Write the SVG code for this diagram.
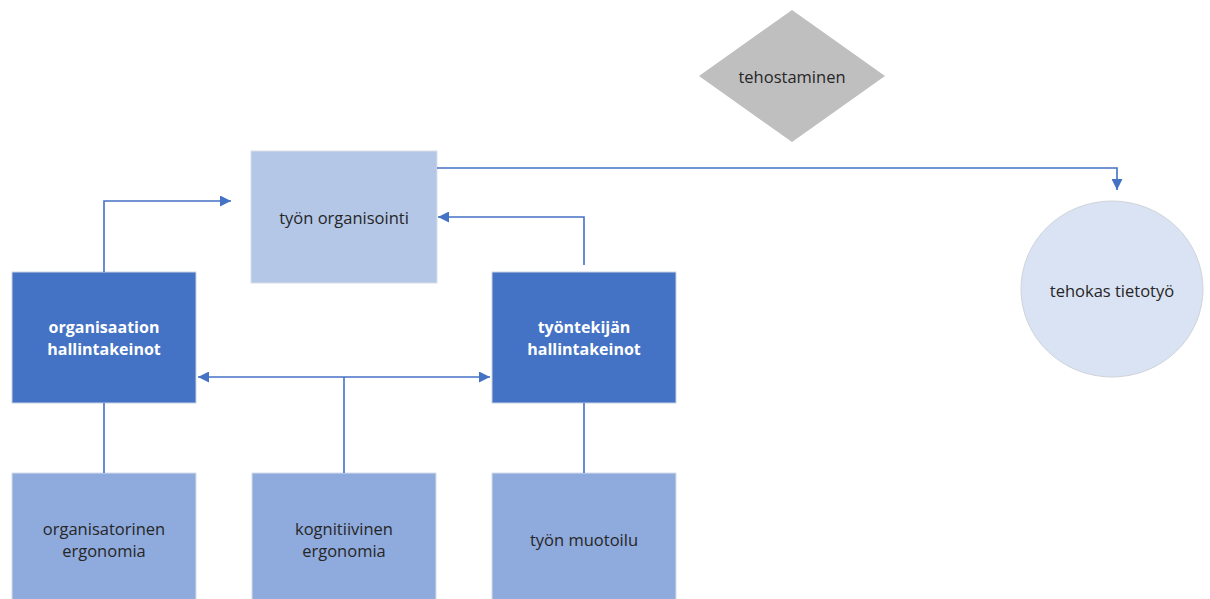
<svg xmlns="http://www.w3.org/2000/svg" width="1210" height="599" viewBox="0 0 1210 599">
<defs>
<style>
text{font-family:"Open Sans","Noto Sans","Liberation Sans",sans-serif;font-size:16.5px;text-anchor:middle;dominant-baseline:central;fill:#262626}
.dark rect{fill:#4472c4;stroke:#c9d3e3;stroke-width:1}
.dark text{fill:#ffffff;font-weight:bold;font-size:16px}
.mid rect{fill:#8faadc;stroke:#d6dde9;stroke-width:1}
.light rect{fill:#b4c7e7;stroke:#d9dee6;stroke-width:1}
.conn{fill:none;stroke:#4472c4;stroke-width:1.6}
</style>
<marker id="ah" viewBox="0 0 10 10" refX="10" refY="5" markerWidth="11" markerHeight="11" markerUnits="userSpaceOnUse" orient="auto">
<path d="M0,0 L10,5 L0,10 z" fill="#4472c4"/>
</marker>
</defs>
<rect width="1210" height="599" fill="#ffffff"/>
<g id="tehostaminen">
<polygon points="792,10 885,76 792,142 699,76" fill="#bfbfbf"/>
<text x="792" y="76">tehostaminen</text>
</g>
<g id="tyon-organisointi" class="light">
<rect x="251" y="151" width="186" height="132"/>
<text x="344" y="217">työn organisointi</text>
</g>
<g id="tehokas-tietotyo">
<ellipse cx="1112" cy="289" rx="91" ry="88" fill="#dae3f3" stroke="#cfd3da" stroke-width="1"/>
<text x="1112" y="290">tehokas tietotyö</text>
</g>
<g id="organisaation-hallintakeinot" class="dark">
<rect x="12" y="272" width="184" height="131"/>
<text x="104" y="327">organisaation</text>
<text x="104" y="349">hallintakeinot</text>
</g>
<g id="tyontekijan-hallintakeinot" class="dark">
<rect x="492" y="272" width="184" height="131"/>
<text x="584" y="327">työntekijän</text>
<text x="584" y="349">hallintakeinot</text>
</g>
<g id="organisatorinen-ergonomia" class="mid">
<rect x="12" y="473" width="184" height="140"/>
<text x="104" y="528">organisatorinen</text>
<text x="104" y="550">ergonomia</text>
</g>
<g id="kognitiivinen-ergonomia" class="mid">
<rect x="252" y="473" width="184" height="140"/>
<text x="344" y="528">kognitiivinen</text>
<text x="344" y="550">ergonomia</text>
</g>
<g id="tyon-muotoilu" class="mid">
<rect x="492" y="473" width="184" height="140"/>
<text x="584" y="539">työn muotoilu</text>
</g>
<g id="connectors">
<path class="conn" d="M437,168 H1117 V190" marker-end="url(#ah)"/>
<path class="conn" d="M104,272 V201 H231" marker-end="url(#ah)"/>
<path class="conn" d="M584,265 V217 H438" marker-end="url(#ah)"/>
<path class="conn" d="M344,377 H198" marker-end="url(#ah)"/>
<path class="conn" d="M344,377 H490" marker-end="url(#ah)"/>
<path class="conn" d="M344,473 V377"/>
<path class="conn" d="M104,403 V473"/>
<path class="conn" d="M584,403 V473"/>
</g>
</svg>
